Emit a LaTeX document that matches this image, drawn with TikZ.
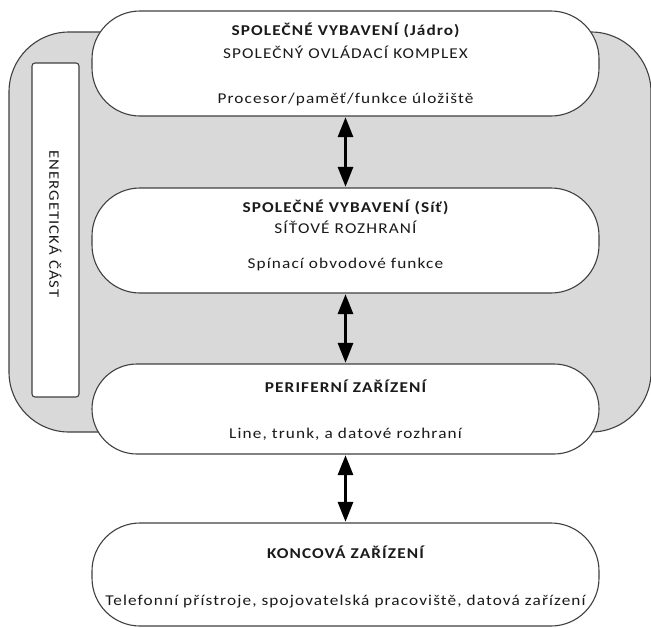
\documentclass[tikz,border=0pt]{standalone}
\usepackage{fontspec}
\setmainfont[FakeStretch=1.15,LetterSpace=7.5]{Carlito}
\usetikzlibrary{arrows.meta}
\definecolor{shellgrey}{HTML}{D9D9D9}
\definecolor{edgegrey}{HTML}{404040}
\definecolor{inkdark}{HTML}{1A1A1A}
\begin{document}
\begin{tikzpicture}[x=1pt,y=-1pt,
  shell/.style={draw=edgegrey,line width=1.1pt,fill=shellgrey,rounded corners=60pt,inner sep=0pt},
  pill/.style={draw=edgegrey,line width=1.1pt,fill=white,rounded corners=#1,inner sep=0pt,minimum width=507pt},
  pill/.default=48pt,
  powerbox/.style={draw=edgegrey,line width=1.1pt,fill=white,rounded corners=3pt,inner sep=0pt,minimum width=47pt,minimum height=334pt},
  head/.style={anchor=base,font=\fontsize{15}{18}\selectfont\bfseries,text=inkdark,inner sep=0pt},
  body/.style={anchor=base,font=\fontsize{15}{18}\selectfont,text=inkdark,inner sep=0pt},
  link/.style={line width=3pt,black,{Triangle[length=20pt,width=15pt]}-{Triangle[length=20pt,width=15pt]},shorten <=0.6pt,shorten >=0.6pt}
]
\useasboundingbox (0,0) rectangle (651,627);
\fill[white] (0,0) rectangle (651,627);

% common grey carrier and the power section
\node[shell,minimum width=642pt,minimum height=400pt] (base) at (330,232) {};
\node[powerbox] (power) at (55.5,230) {};
\node[rotate=-90,font=\fontsize{14.5}{18}\selectfont,text=inkdark] (powerlbl) at (55.5,224) {ENERGETICKÁ ČÁST};

% the four layers
\node[pill,minimum height=105pt] (core) at (345.5,63.5) {};
\node[pill,minimum height=105pt] (net) at (345.5,240.5) {};
\node[pill=45pt,minimum height=90pt] (peri) at (345.5,409) {};
\node[pill,minimum height=103pt] (term) at (345.5,574.5) {};

% texts
\node[head] (coreA) at (345.5,35) {SPOLEČNÉ VYBAVENÍ (Jádro)};
\node[body] (coreB) at (345.5,58) {SPOLEČNÝ OVLÁDACÍ KOMPLEX};
\node[body] (coreC) at (345.5,103) {Procesor/paměť/funkce úložiště};

\node[head] (netA) at (345.5,212) {SPOLEČNÉ VYBAVENÍ (Síť)};
\node[body] (netB) at (345.5,233) {SÍŤOVÉ ROZHRANÍ};
\node[body] (netC) at (345.5,268) {Spínací obvodové funkce};

\node[head] (periA) at (345.5,392) {PERIFERNÍ ZAŘÍZENÍ};
\node[body] (periB) at (345.5,438) {Line, trunk, a datové rozhraní};

\node[head] (termA) at (345.5,558) {KONCOVÁ ZAŘÍZENÍ};
\node[body] (termB) at (345.5,605) {Telefonní přístroje, spojovatelská pracoviště, datová zařízení};

% links between layers
\draw[link] (core.south) -- (net.north);
\draw[link] (net.south) -- (peri.north);
\draw[link] (peri.south) -- (term.north);
\end{tikzpicture}
\end{document}
